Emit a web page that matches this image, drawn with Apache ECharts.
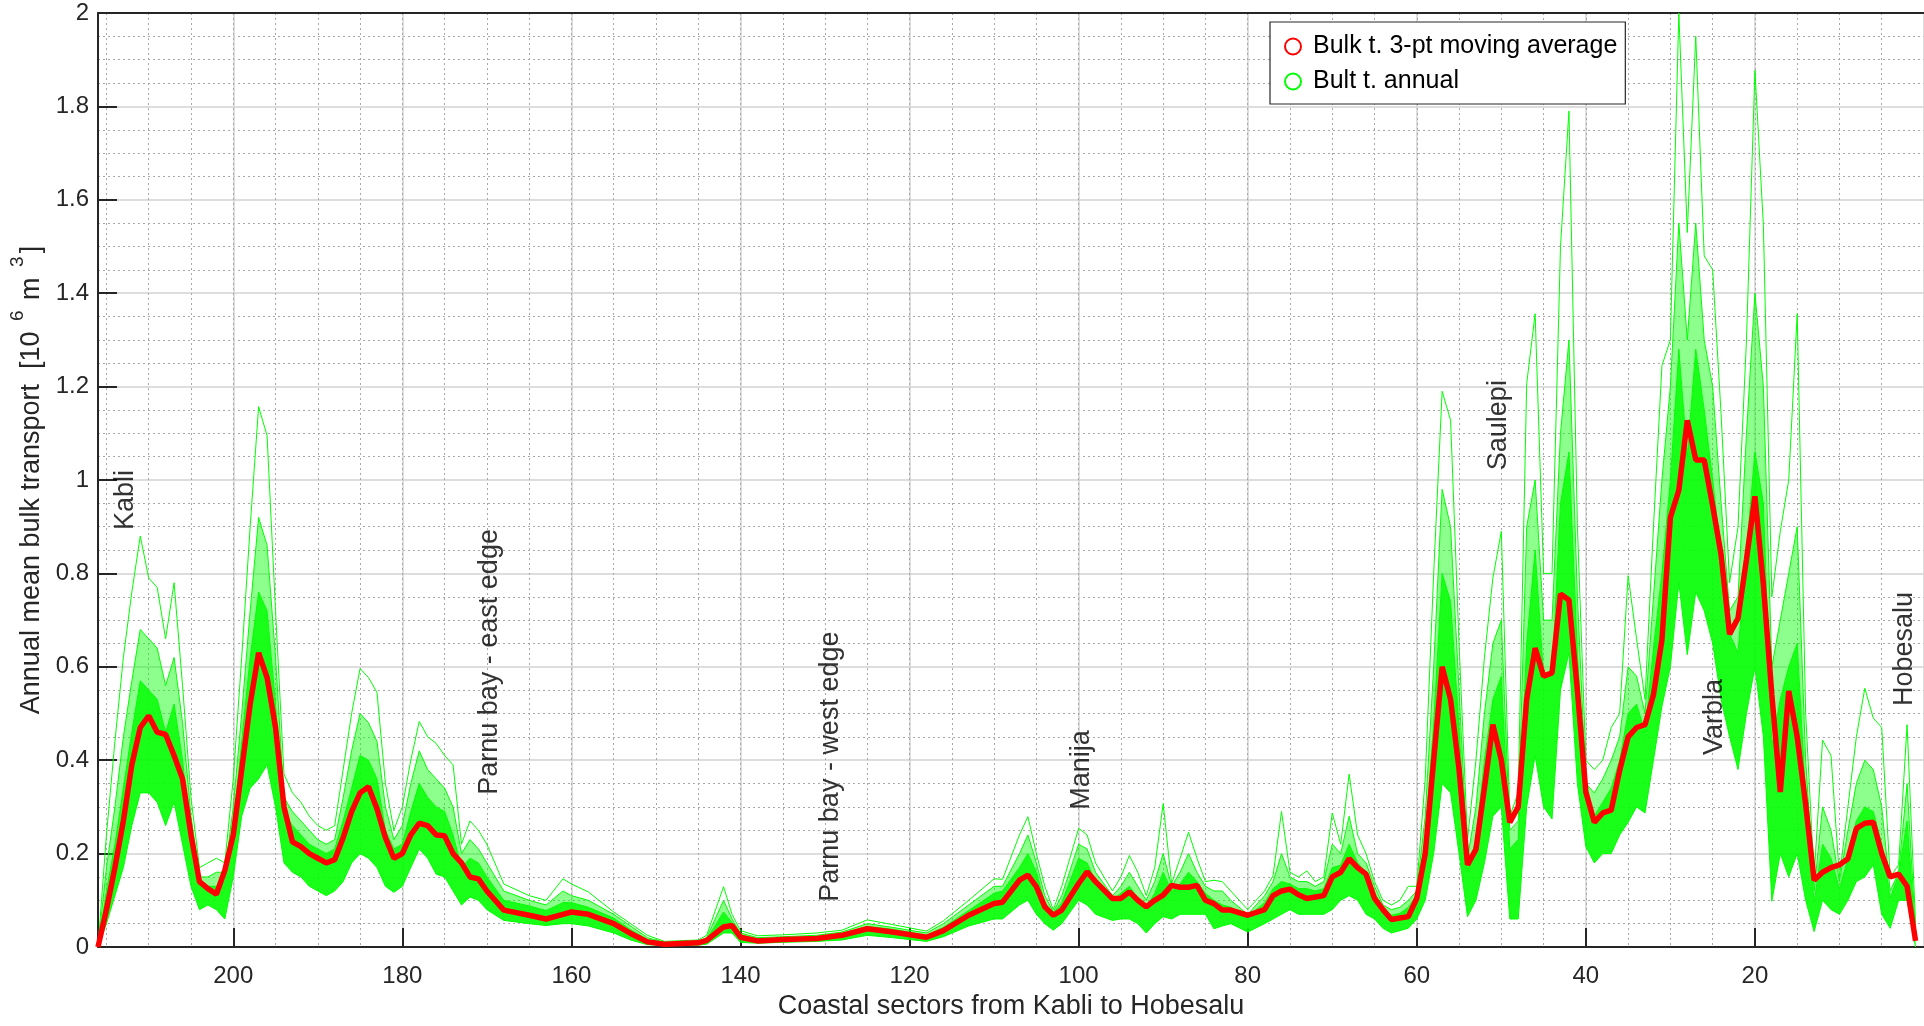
<!DOCTYPE html>
<html>
<head>
<meta charset="utf-8">
<script src="https://cdn.jsdelivr.net/npm/echarts@6/dist/echarts.min.js"></script>
<style>html,body{margin:0;padding:0;background:#fff}#c{width:1924px;height:1026px}</style>
</head>
<body>
<div id="c"></div>
<script>
// Coastal sectors (x) at the vertices
const sectors = [
 216,215,214,213,212,211,210,209,208,207, 206,205,204,203,202,201,200,199,198,197,
 196,195,194,193,192,191,190,189,188,187, 186,185,184,183,182,181,180,179,178,177,
 176,175,174,173,172,171,170,
 168,165,163,161,160,158,155,153,151,149, 145,144,142,141,140,138,135,131,128,125,
 122,118,116,113,110,109,107,106,105,104, 103,102,
 100,99,98,96,95,94,93,92,91,90, 89,88,87,86,85,84,83,82,80,78,
 77,76,75,74,73,72,71,70,69,68, 67,66,65,64,63,62,61,60,59,58,
 57,56,55,54,53,52,51,50,49,48, 47,46,45,44,43,42,41,40,39,38,
 37,36,35,34,33,32,31,30,29,28, 27,26,25,24,23,22,21,20,19,18,
 17,16,15,14,13,12,11,10,9,8, 7,6,5,4,3,2,1
];
// Red: bulk transport 3-pt moving average
const movingAvg = [
 0,0.08,0.17,0.27,0.39,0.47,0.495,0.46,0.455,0.41, 0.36,0.24,0.14,0.125,0.113,0.164,0.24,0.38,0.52,0.63,
 0.577,0.47,0.30,0.225,0.215,0.20,0.19,0.18,0.187,0.234, 0.29,0.33,0.343,0.296,0.234,0.19,0.2,0.24,0.265,0.26,
 0.24,0.238,0.2,0.18,0.15,0.146,0.12,
 0.079,0.068,0.06,0.07,0.075,0.07,0.05,0.029,0.011,0.006, 0.009,0.014,0.043,0.046,0.021,0.013,0.016,0.018,0.025,0.039,
 0.032,0.021,0.035,0.068,0.093,0.096,0.143,0.154,0.129,0.086, 0.068,0.079,
 0.136,0.161,0.14,0.104,0.104,0.118,0.1,0.086,0.1,0.111, 0.132,0.128,0.128,0.132,0.1,0.093,0.079,0.079,0.068,0.08,
 0.11,0.12,0.124,0.112,0.104,0.107,0.11,0.15,0.16,0.189, 0.17,0.156,0.104,0.08,0.059,0.062,0.065,0.104,0.2,0.4,
 0.6,0.53,0.38,0.176,0.209,0.34,0.476,0.4,0.267,0.3, 0.53,0.64,0.58,0.587,0.756,0.743,0.55,0.332,0.267,0.287,
 0.293,0.378,0.45,0.47,0.476,0.54,0.658,0.92,0.978,1.128, 1.043,1.043,0.945,0.84,0.67,0.704,0.83,0.965,0.776,0.54,
 0.332,0.548,0.45,0.306,0.143,0.16,0.17,0.176,0.189,0.254, 0.265,0.267,0.2,0.15,0.156,0.13,0.013
];
// Green annual curves: lowest curve
const annualMin = [
 0,0.05,0.11,0.17,0.26,0.33,0.33,0.31,0.26,0.31, 0.22,0.13,0.08,0.09,0.08,0.06,0.15,0.28,0.34,0.36,
 0.39,0.3,0.18,0.16,0.15,0.13,0.12,0.11,0.12,0.14, 0.18,0.2,0.19,0.17,0.13,0.117,0.13,0.17,0.21,0.19,
 0.156,0.15,0.12,0.09,0.107,0.1,0.08,
 0.057,0.05,0.046,0.05,0.05,0.045,0.03,0.015,0.005,0.003, 0.004,0.006,0.03,0.03,0.01,0.008,0.01,0.012,0.015,0.025,
 0.02,0.012,0.022,0.045,0.06,0.06,0.09,0.1,0.07,0.05, 0.036,0.05,
 0.1,0.09,0.07,0.057,0.06,0.06,0.05,0.03,0.05,0.065, 0.06,0.07,0.07,0.07,0.07,0.039,0.045,0.05,0.032,0.05,
 0.06,0.07,0.08,0.07,0.07,0.07,0.07,0.08,0.1,0.11, 0.1,0.07,0.06,0.04,0.03,0.035,0.04,0.06,0.1,0.2,
 0.35,0.33,0.2,0.065,0.1,0.18,0.28,0.3,0.06,0.06, 0.3,0.41,0.3,0.274,0.55,0.63,0.35,0.215,0.18,0.2,
 0.2,0.24,0.267,0.3,0.287,0.4,0.515,0.6,0.78,0.626, 0.76,0.72,0.65,0.53,0.45,0.38,0.5,0.6,0.45,0.098,
 0.2,0.15,0.2,0.1,0.033,0.1,0.08,0.07,0.1,0.14, 0.15,0.176,0.07,0.04,0.1,0.1,0
];
// Green annual curves: top of the dense bundle
const annualDense = [
 0,0.12,0.22,0.34,0.46,0.57,0.55,0.53,0.46,0.52, 0.4,0.23,0.13,0.13,0.13,0.14,0.26,0.44,0.62,0.76,
 0.72,0.52,0.29,0.26,0.24,0.22,0.21,0.2,0.21,0.27, 0.34,0.41,0.4,0.36,0.25,0.21,0.22,0.29,0.35,0.32,
 0.3,0.29,0.24,0.17,0.19,0.18,0.15,
 0.1,0.088,0.078,0.095,0.095,0.085,0.062,0.037,0.016,0.008, 0.01,0.016,0.075,0.052,0.026,0.017,0.019,0.021,0.028,0.044,
 0.038,0.025,0.042,0.078,0.115,0.12,0.17,0.2,0.16,0.095, 0.072,0.095,
 0.19,0.18,0.14,0.1,0.115,0.13,0.105,0.085,0.115,0.16, 0.12,0.135,0.16,0.14,0.115,0.1,0.09,0.085,0.065,0.095,
 0.125,0.14,0.135,0.125,0.125,0.12,0.125,0.17,0.175,0.22, 0.18,0.16,0.115,0.085,0.068,0.072,0.085,0.112,0.23,0.48,
 0.8,0.74,0.47,0.16,0.23,0.4,0.53,0.58,0.21,0.23, 0.65,0.85,0.58,0.58,0.95,1.06,0.63,0.31,0.28,0.31,
 0.34,0.4,0.5,0.52,0.46,0.64,0.8,1.0,1.28,1.05, 1.28,1.15,1.0,0.84,0.67,0.63,0.85,1.06,0.95,0.43,
 0.53,0.6,0.65,0.32,0.095,0.22,0.19,0.125,0.19,0.27, 0.3,0.29,0.22,0.105,0.155,0.27,0.02
];
// Green annual curves: an upper (sparser) curve
const annualHigh = [
 0,0.17,0.3,0.45,0.57,0.68,0.66,0.64,0.56,0.62, 0.48,0.28,0.15,0.15,0.16,0.16,0.3,0.5,0.72,0.92,
 0.86,0.62,0.32,0.29,0.27,0.25,0.23,0.22,0.23,0.32, 0.42,0.5,0.48,0.44,0.3,0.23,0.26,0.35,0.42,0.38,
 0.36,0.34,0.3,0.2,0.23,0.21,0.18,
 0.12,0.1,0.09,0.12,0.11,0.1,0.07,0.045,0.02,0.01, 0.012,0.02,0.1,0.06,0.03,0.02,0.022,0.025,0.032,0.05,
 0.042,0.03,0.05,0.09,0.13,0.13,0.2,0.24,0.18,0.11, 0.075,0.11,
 0.22,0.21,0.16,0.11,0.13,0.16,0.13,0.1,0.14,0.2, 0.13,0.16,0.2,0.16,0.13,0.12,0.12,0.1,0.07,0.11,
 0.14,0.2,0.15,0.14,0.14,0.13,0.14,0.22,0.2,0.28, 0.2,0.18,0.13,0.09,0.08,0.085,0.1,0.12,0.28,0.6,
 0.98,0.9,0.55,0.19,0.3,0.5,0.65,0.7,0.25,0.27, 0.9,1.0,0.7,0.7,1.1,1.3,0.75,0.35,0.33,0.36,
 0.4,0.45,0.6,0.58,0.5,0.75,1.0,1.2,1.55,1.3, 1.55,1.3,1.2,0.95,0.72,0.75,1.1,1.4,1.2,0.6,
 0.7,0.8,0.9,0.4,0.12,0.3,0.25,0.14,0.25,0.35, 0.4,0.38,0.3,0.12,0.16,0.35,0.03
];
// Green annual curves: highest curve
const annualMax = [
 0,0.24,0.44,0.62,0.76,0.88,0.79,0.77,0.66,0.78, 0.56,0.32,0.17,0.18,0.19,0.18,0.36,0.62,0.9,1.157,
 1.095,0.72,0.37,0.33,0.31,0.28,0.26,0.25,0.26,0.38, 0.5,0.596,0.577,0.545,0.35,0.25,0.3,0.4,0.483,0.45,
 0.436,0.41,0.39,0.22,0.27,0.25,0.22,
 0.135,0.11,0.1,0.146,0.135,0.118,0.075,0.05,0.025,0.012, 0.015,0.025,0.129,0.07,0.035,0.024,0.026,0.03,0.036,0.058,
 0.048,0.034,0.056,0.1,0.146,0.145,0.24,0.279,0.2,0.13, 0.08,0.13,
 0.254,0.24,0.18,0.12,0.15,0.196,0.16,0.11,0.17,0.307, 0.136,0.19,0.246,0.19,0.14,0.143,0.14,0.12,0.08,0.12,
 0.153,0.29,0.16,0.15,0.163,0.14,0.15,0.287,0.22,0.37, 0.24,0.2,0.14,0.1,0.09,0.1,0.13,0.13,0.36,0.8,
 1.19,1.128,0.65,0.23,0.4,0.62,0.79,0.89,0.28,0.33, 1.206,1.356,0.8,0.8,1.5,1.79,0.9,0.4,0.38,0.4,
 0.47,0.5,0.795,0.66,0.53,0.9,1.245,1.3,2.0,1.53, 1.95,1.48,1.45,1.14,0.78,0.9,1.3,1.877,1.545,0.75,
 0.89,1.0,1.356,0.5,0.15,0.443,0.41,0.15,0.3,0.45, 0.554,0.49,0.47,0.15,0.176,0.476,0.05
];
// Place-name annotations: [sector, value, text]
const placeLabels = [
 [212.8, 0.893, 'Kabli'],
 [169.7, 0.326, 'Parnu bay - east edge'],
 [129.4, 0.097, 'Parnu bay - west edge'],
 [99.7, 0.294, 'Manija'],
 [50.3, 1.021, 'Saulepi'],
 [24.8, 0.411, 'Varbla'],
 [2.3, 0.516, 'Hobesalu']
];
const yTicks = { min: 0, max: 2, step: 0.2 };
const xTicks = { min: 0, max: 216, step: 20, minorStep: 5 };

const NAME_RED = 'Bulk t. 3-pt moving average';
const NAME_GREEN = 'Bult t. annual';
const FONT = "'Liberation Sans', Arial, Helvetica, sans-serif";
const GREEN = '#00ff00';
const INK = '#262626';
const pairs = arr => sectors.map((s, i) => [s, arr[i]]);

const chart = echarts.init(document.getElementById('c'), null, { renderer: 'canvas' });
const greenLine = (arr) => ({
  type: 'line', name: NAME_GREEN, data: pairs(arr), showSymbol: false, symbol: 'none',
  lineStyle: { color: GREEN, width: 1 }, itemStyle: { color: GREEN }, z: 3, silent: true
});
const greenBand = (lower, upper, opacity) => ({
  type: 'custom', name: NAME_GREEN, silent: true, z: 2,
  data: sectors.map((s, i) => [s, lower[i], upper[i]]),
  encode: { x: 0, y: [1, 2] },
  renderItem: function (params, api) {
    if (params.dataIndex !== 0) return null;
    const pts = [];
    for (let i = 0; i < sectors.length; i++) pts.push(api.coord([sectors[i], upper[i]]));
    for (let i = sectors.length - 1; i >= 0; i--) pts.push(api.coord([sectors[i], lower[i]]));
    return { type: 'polygon', shape: { points: pts }, style: { fill: GREEN, opacity: opacity } };
  }
});

chart.setOption({
  animation: false,
  backgroundColor: '#ffffff',
  textStyle: { fontFamily: FONT },
  grid: { left: 98, right: -8, top: 13, bottom: 79, containLabel: false },
  legend: {
    left: 1270, top: 22, orient: 'vertical',
    padding: [12, 8, 10, 14], itemGap: 10,
    itemWidth: 30, itemHeight: 16,
    backgroundColor: '#ffffff', borderColor: INK, borderWidth: 1.2,
    textStyle: { fontSize: 25, color: '#000', fontFamily: FONT },
    data: [
      { name: NAME_RED, icon: 'circle', itemStyle: { color: '#ffffff', borderColor: '#ff0000', borderWidth: 2 } },
      { name: NAME_GREEN, icon: 'circle', itemStyle: { color: '#ffffff', borderColor: GREEN, borderWidth: 2 } }
    ]
  },
  xAxis: [
    {
      type: 'value', min: xTicks.min, max: xTicks.max, interval: xTicks.step, inverse: true, position: 'bottom',
      name: 'Coastal sectors from Kabli to Hobesalu', nameLocation: 'middle', nameGap: 46,
      nameTextStyle: { fontSize: 27, color: INK, fontFamily: FONT },
      axisLine: { show: true, onZero: false, lineStyle: { color: INK, width: 2 } },
      axisTick: { show: true, inside: true, length: 19, lineStyle: { color: INK, width: 2 } },
      axisLabel: { fontSize: 24, color: INK, margin: 17, showMaxLabel: false, showMinLabel: false, fontFamily: FONT },
      splitLine: { show: true, lineStyle: { color: '#d2d2d2', width: 1.5 } }
    },
    {
      type: 'value', min: xTicks.min, max: xTicks.max, interval: xTicks.minorStep, inverse: true, position: 'bottom',
      axisLine: { show: false }, axisTick: { show: false }, axisLabel: { show: false },
      splitLine: { show: true, lineStyle: { color: '#a8a8a8', width: 1, type: [2, 3] } }
    },
    {
      type: 'value', min: xTicks.min, max: xTicks.max, inverse: true, position: 'top',
      axisLine: { show: true, onZero: false, lineStyle: { color: INK, width: 2 } },
      axisTick: { show: false }, axisLabel: { show: false }, splitLine: { show: false }
    }
  ],
  yAxis: {
    type: 'value', min: yTicks.min, max: yTicks.max, interval: yTicks.step,
    name: '{n|Annual mean bulk transport  [10 }{s|6}{n| m }{s|3}{n|]}',
    nameLocation: 'middle', nameGap: 50, nameRotate: 90,
    nameTextStyle: {
      fontSize: 27, color: INK, fontFamily: FONT,
      rich: {
        n: { fontSize: 27, color: INK, fontFamily: FONT, lineHeight: 36, verticalAlign: 'bottom' },
        s: { fontSize: 19, color: INK, fontFamily: FONT, lineHeight: 36, verticalAlign: 'top', padding: [0, 3, 0, 3] }
      }
    },
    axisLine: { show: true, onZero: false, lineStyle: { color: INK, width: 2 } },
    axisTick: { show: true, inside: true, length: 19, lineStyle: { color: INK, width: 2 } },
    axisLabel: { fontSize: 24, color: INK, margin: 9, fontFamily: FONT },
    splitLine: { show: true, lineStyle: { color: '#d2d2d2', width: 1.5 } },
    minorTick: { show: false, splitNumber: 4 },
    minorSplitLine: { show: true, lineStyle: { color: '#a8a8a8', width: 1, type: [2, 3] } }
  },
  series: [
    greenBand(annualMin, annualDense, 0.9),
    greenBand(annualDense, annualHigh, 0.45),
    greenLine(annualMin),
    greenLine(annualDense),
    greenLine(annualHigh),
    greenLine(annualMax),
    {
      type: 'line', name: NAME_RED, data: pairs(movingAvg), showSymbol: false, symbol: 'none',
      lineStyle: { color: '#ff0000', width: 5.5 }, itemStyle: { color: '#ff0000' }, z: 5, silent: true
    },
    {
      type: 'scatter', name: 'places', silent: true, symbolSize: 0, z: 6,
      data: placeLabels,
      label: {
        show: true, formatter: p => p.data[2], rotate: 90, position: [0, 0],
        align: 'left', verticalAlign: 'middle', fontSize: 27, color: '#000', fontFamily: FONT
      }
    }
  ]
});
</script>
</body>
</html>
